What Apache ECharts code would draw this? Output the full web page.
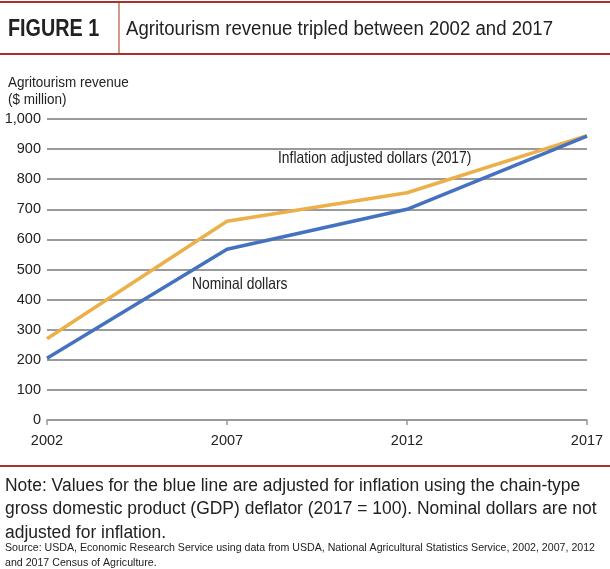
<!DOCTYPE html>
<html>
<head>
<meta charset="utf-8">
<script src="https://cdn.jsdelivr.net/npm/echarts@6/dist/echarts.min.js"></script>
<style>
  html, body { margin: 0; padding: 0; background: #fff; }
  #chart { width: 610px; height: 569px; }
</style>
</head>
<body>
<div id="chart"></div>
<script>
// data
const years = ['2002', '2007', '2012', '2017'];
const nominal = [205, 567, 700, 943];
const inflationAdjusted = [270, 660, 755, 945];
const yTicks = [0, 100, 200, 300, 400, 500, 600, 700, 800, 900, 1000];

const FONT = '"Liberation Sans Narrow", "Liberation Sans", Arial, sans-serif';
const RED = '#a8312b';

// text helper: squeeze horizontally, the original uses a condensed face
function txt(x, y, text, font, sx, extra) {
  return {
    type: 'text', x: x, y: y, scaleX: sx, originX: 0,
    style: Object.assign({ text: text, font: font, fill: '#222', textVerticalAlign: 'top' }, extra || {})
  };
}

const chart = echarts.init(document.getElementById('chart'), null, { renderer: 'canvas' });

const option = {
  animation: false,
  backgroundColor: '#fff',
  grid: { left: 47, right: 23, top: 119, bottom: 149 },
  xAxis: {
    type: 'category',
    data: years,
    boundaryGap: false,
    axisLine: { lineStyle: { color: '#999', width: 1.5 } },
    axisTick: { show: true, length: 5, lineStyle: { color: '#999', width: 1.5 } },
    axisLabel: { color: '#222', fontSize: 14.5, fontFamily: FONT, margin: 13 }
  },
  yAxis: {
    type: 'value',
    min: yTicks[0],
    max: yTicks[yTicks.length - 1],
    interval: 100,
    axisLine: { show: false },
    axisTick: { show: false },
    splitLine: { lineStyle: { color: '#9a9a9a', width: 1.8 } },
    axisLabel: {
      color: '#222', fontSize: 14.5, fontFamily: FONT, margin: 6,
      formatter: v => v.toLocaleString('en-US')
    }
  },
  series: [
    {
      name: 'Inflation adjusted dollars (2017)',
      type: 'line',
      data: inflationAdjusted,
      showSymbol: false,
      lineStyle: { color: '#ebb04a', width: 3.5 },
      z: 3
    },
    {
      name: 'Nominal dollars',
      type: 'line',
      data: nominal,
      showSymbol: false,
      lineStyle: { color: '#4472c0', width: 3.5 },
      z: 4
    }
  ],
  graphic: [
    // header rules
    { type: 'line', shape: { x1: 0, y1: 2, x2: 610, y2: 2 }, style: { stroke: RED, lineWidth: 2 } },
    { type: 'line', shape: { x1: 0, y1: 54, x2: 610, y2: 54 }, style: { stroke: RED, lineWidth: 2 } },
    { type: 'line', shape: { x1: 119, y1: 3, x2: 119, y2: 53 }, style: { stroke: '#c27a66', lineWidth: 1.5 } },
    txt(8, 18, 'FIGURE 1', 'bold 23px ' + FONT, 0.86),
    txt(126, 19, 'Agritourism revenue tripled between 2002 and 2017', '20px ' + FONT, 0.93),
    // axis title
    txt(8, 74, 'Agritourism revenue\n($ million)', '15px ' + FONT, 0.9, { lineHeight: 17 }),
    // line labels
    txt(278, 150, 'Inflation adjusted dollars (2017)', '16.5px ' + FONT, 0.84),
    txt(192, 276, 'Nominal dollars', '16.5px ' + FONT, 0.84),
    // bottom rule and notes
    { type: 'line', shape: { x1: 0, y1: 466, x2: 610, y2: 466 }, style: { stroke: RED, lineWidth: 2 } },
    txt(5, 474, 'Note: Values for the blue line are adjusted for inflation using the chain-type\ngross domestic product (GDP) deflator (2017 = 100). Nominal dollars are not\nadjusted for inflation.',
      '18px ' + FONT, 0.97, { lineHeight: 23.5 }),
    txt(5, 540, 'Source: USDA, Economic Research Service using data from USDA, National Agricultural Statistics Service, 2002, 2007, 2012\nand 2017 Census of Agriculture.',
      '11px ' + FONT, 0.965, { lineHeight: 15 })
  ]
};

chart.setOption(option);
</script>
</body>
</html>
